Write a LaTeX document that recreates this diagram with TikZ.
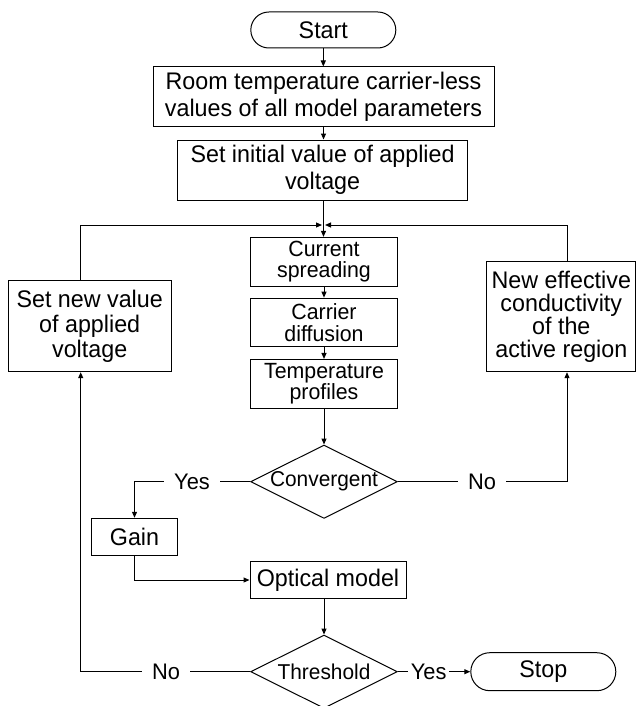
\documentclass[tikz,border=0pt]{standalone}
\usepackage{fontspec}
\setmainfont[FakeStretch=0.97]{Liberation Sans}
\usetikzlibrary{shapes.geometric,shapes.misc,arrows.meta}

\begin{document}
\begin{tikzpicture}[x=1pt,y=1pt,line width=1pt,
  every node/.style={font=\fontsize{24}{27}\selectfont},
  box/.style={draw,rectangle,align=center,inner sep=0pt},
  midbox/.style={box,minimum width=146.6pt,minimum height=48.7pt,font=\fontsize{22}{21.5}\selectfont},
  term/.style={draw,rounded rectangle,minimum width=145pt,minimum height=36pt,inner sep=0pt},
  decision/.style={draw,diamond,aspect=2,minimum width=146.7pt,minimum height=73.3pt,inner sep=0pt,font=\fontsize{21.5}{22}\selectfont},
  lbl/.style={inner xsep=10pt,inner ysep=0pt,font=\fontsize{22.5}{24}\selectfont},
  >={Triangle[length=6pt,width=5pt]}]
\useasboundingbox (0,0) rectangle (637,-706);
% main column
\node[term] (start) at (323.3,-30) {Start};
\node[box,minimum width=341pt,minimum height=59pt] (room) at (323.5,-96.5) {Room temperature carrier-less\\values of all model parameters};
\node[box,minimum width=290.7pt,minimum height=60pt] (init) at (322.6,-170) {Set initial value of applied\\voltage};
\node[midbox] (spread) at (324,-261.7) {Current\\spreading};
\node[midbox] (diffuse) at (324,-322.5) {Carrier\\diffusion};
\node[midbox] (profile) at (324,-383.8) {Temperature\\profiles};
\node[decision] (conv) at (324,-481.7) {Convergent};
\node[box,minimum width=85.6pt,minimum height=37.4pt] (gain) at (134.5,-537) {Gain};
\node[box,minimum width=156pt,minimum height=36.6pt] (optic) at (328,-580) {Optical model};
\node[decision] (thr) at (324,-671.7) {Threshold};
\node[term,minimum height=38pt] (stop) at (543.3,-671.7) {Stop};
% side boxes
\node[box,minimum width=162.7pt,minimum height=91pt,font=\fontsize{24}{25}\selectfont] (setv) at (89.7,-326.2) {Set new value\\of applied\\voltage};
\node[box,minimum width=149.3pt,minimum height=110pt,font=\fontsize{24}{23}\selectfont] (neff) at (561.3,-316.7) {New effective\\conductivity\\of the\\active region};
% branch labels
\node[lbl] (yes1) at (192,-481.7) {Yes};
\node[lbl] (no1) at (482,-481.7) {No};
\node[lbl] (no2) at (166,-671.7) {No};
\node[lbl,inner xsep=2pt] (yes2) at (428.7,-671.7) {Yes};
\coordinate (join) at (323.5,-225);
\coordinate (lloop) at (80.7,-225);
\coordinate (rloop) at (567,-225);
% connectors
\draw[->] (start.south) -- (start.south |- room.north);
\draw[->] (room.south) -- (room.south |- init.north);
\draw[->] (init.south -| join) -- (join |- spread.north);
\draw[->] (spread.south) -- (diffuse.north);
\draw[->] (diffuse.south) -- (profile.north);
\draw[->] (profile.south) -- (conv.north);
\draw (conv.west) -- (yes1.east);
\draw[->] (yes1.west) -| (gain.north);
\draw[->] (gain.south) |- (optic.west);
\draw[->] (optic.south -| thr.north) -- (thr.north);
\draw (thr.west) -- (no2.east);
\draw[->] (no2.west) -| (setv.south -| lloop);
\draw[->] (setv.north -| lloop) |- ([xshift=-1.5pt]join);
\draw (conv.east) -- (no1.west);
\draw[->] (no1.east) -| (neff.south -| rloop);
\draw[->] (neff.north -| rloop) |- ([xshift=1.5pt]join);
\draw (thr.east) -- (yes2.west);
\draw[->] (yes2.east) -- (stop.west);
\end{tikzpicture}
\end{document}
